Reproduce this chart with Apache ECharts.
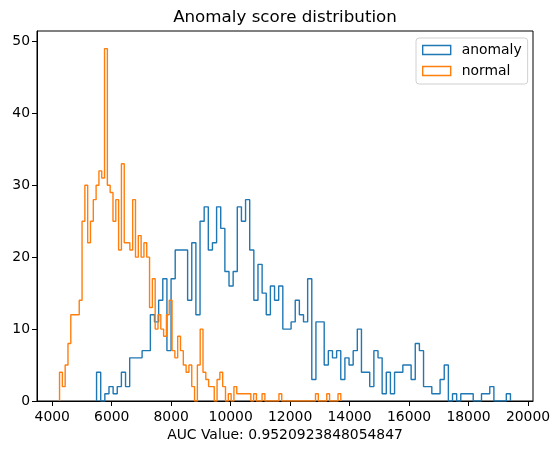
<!DOCTYPE html>
<html>
<head>
<meta charset="utf-8">
<script src="https://cdn.jsdelivr.net/npm/echarts@6/dist/echarts.min.js"></script>
<style>
  html, body { margin: 0; padding: 0; background: #fff; }
  #chart { width: 559px; height: 451px; }
</style>
</head>
<body>
<div id="chart"></div>
<script>
// histogram ranges (first bin left edge, last bin right edge) and counts, 100 bins each
const anomalyRange = [5490, 19410]
const anomalyCounts = [
  4, 0, 1, 2, 1, 2, 4, 2, 6, 6,
  6, 7, 7, 12, 11, 14, 17, 7, 17, 21,
  21, 21, 14, 22, 12, 25, 27, 21, 22, 27,
  24, 18, 16, 18, 27, 25, 28, 21, 14, 19,
  15, 12, 16, 14, 16, 10, 10, 11, 14, 12,
  11, 17, 3, 11, 11, 5, 7, 6, 7, 3,
  6, 5, 7, 10, 4, 4, 2, 7, 6, 1,
  4, 1, 4, 4, 5, 5, 3, 8, 7, 2,
  2, 1, 1, 3, 5, 0, 1, 0, 1, 1,
  1, 0, 0, 1, 1, 2, 0, 0, 0, 1
]
const normalRange = [4245, 13705]
const normalCounts = [
  4, 2, 5, 8, 12, 12, 12, 14, 25, 30,
  22, 25, 28, 30, 32, 31, 49, 30, 29, 25,
  28, 21, 33, 22, 22, 21, 28, 20, 23, 20,
  22, 20, 13, 17, 10, 12, 10, 9, 12, 14,
  7, 6, 9, 7, 5, 4, 5, 2, 0, 5,
  10, 4, 3, 2, 2, 0, 3, 4, 2, 0,
  1, 0, 2, 1, 1, 1, 1, 1, 0, 1,
  0, 0, 1, 0, 0, 0, 0, 0, 1, 0,
  0, 0, 0, 0, 0, 0, 0, 0, 0, 0,
  0, 1, 0, 0, 0, 1, 0, 0, 0, 1
]
const xTicks = [4000, 6000, 8000, 10000, 12000, 14000, 16000, 18000, 20000]
const yTicks = [0, 10, 20, 30, 40, 50]
const titleText = 'Anomaly score distribution'
const xLabelText = 'AUC Value: 0.9520923848054847'

const blue = '#1f77b4'
const orange = '#ff7f0e'
const font = 'DejaVu Sans'

// step outline like matplotlib histtype='step'
const toStep = (range, counts) => {
  const width = (range[1] - range[0]) / counts.length
  const pts = [[range[0], 0]]
  counts.forEach((c, i) => {
    pts.push([range[0] + i * width, c])
  })
  pts.push([range[1], 0])
  return pts
}

// 5% margins on x, top margin on y (bottom sticks to 0)
const dataMin = Math.min(anomalyRange[0], normalRange[0])
const dataMax = Math.max(anomalyRange[1], normalRange[1])
const pad = (dataMax - dataMin) * 0.05
const yMax = Math.max(...anomalyCounts, ...normalCounts) * 1.05

const myChart = echarts.init(document.getElementById('chart'), null, { renderer: 'canvas' })

const option = {
  animation: false,
  textStyle: { fontFamily: font },
  grid: {
    left: 37,
    top: 31,
    width: 496,
    height: 370,
    show: true,
    borderColor: '#000',
    borderWidth: 1,
    backgroundColor: 'transparent'
  },
  graphic: [
    {
      type: 'text',
      x: 285,
      y: 18,
      style: {
        text: titleText,
        font: '16.7px "DejaVu Sans"',
        fill: '#000',
        textAlign: 'center',
        textVerticalAlign: 'middle'
      }
    },
    {
      type: 'text',
      x: 285,
      y: 435,
      style: {
        text: xLabelText,
        font: '13.9px "DejaVu Sans"',
        fill: '#000',
        textAlign: 'center',
        textVerticalAlign: 'middle'
      }
    }
  ],
  legend: {
    orient: 'vertical',
    left: 416,
    top: 38,
    padding: [5, 6, 6, 6],
    itemGap: 7,
    itemWidth: 28,
    itemHeight: 9,
    backgroundColor: '#fff',
    borderColor: '#d0d0d0',
    borderWidth: 1,
    borderRadius: 3,
    textStyle: {
      fontFamily: font,
      fontSize: 13.9,
      color: '#000',
      padding: [0, 0, 0, 6]
    },
    data: [
      {
        name: 'anomaly',
        icon: 'rect',
        itemStyle: { color: 'transparent', borderColor: blue, borderWidth: 1.4 }
      },
      {
        name: 'normal',
        icon: 'rect',
        itemStyle: { color: 'transparent', borderColor: orange, borderWidth: 1.4 }
      }
    ]
  },
  xAxis: {
    type: 'value',
    min: dataMin - pad,
    max: dataMax + pad,
    minInterval: 2000,
    maxInterval: 2000,
    splitNumber: 8,
    splitLine: { show: false },
    axisLine: { onZero: false, lineStyle: { color: '#000', width: 1 } },
    axisTick: { length: 5, customValues: xTicks, lineStyle: { color: '#000', width: 1 } },
    axisLabel: {
      margin: 9,
      color: '#000',
      fontFamily: font,
      fontSize: 13.9,
      customValues: xTicks,
      formatter: (v) => String(v)
    }
  },
  yAxis: {
    type: 'value',
    min: 0,
    max: yMax,
    interval: 10,
    splitLine: { show: false },
    axisLine: { show: true, lineStyle: { color: '#000', width: 1 } },
    axisTick: { show: true, length: 5, customValues: yTicks, lineStyle: { color: '#000', width: 1 } },
    axisLabel: {
      margin: 7,
      color: '#000',
      fontFamily: font,
      fontSize: 13.9,
      padding: [4, 0, 0, 0],
      customValues: yTicks,
      formatter: (v) => String(v)
    }
  },
  series: [
    {
      name: 'anomaly',
      type: 'line',
      step: 'end',
      symbol: 'none',
      color: blue,
      lineStyle: { color: blue, width: 1.4 },
      data: toStep(anomalyRange, anomalyCounts)
    },
    {
      name: 'normal',
      type: 'line',
      step: 'end',
      symbol: 'none',
      color: orange,
      lineStyle: { color: orange, width: 1.4 },
      data: toStep(normalRange, normalCounts)
    }
  ]
}
myChart.setOption(option)
</script>
</body>
</html>
